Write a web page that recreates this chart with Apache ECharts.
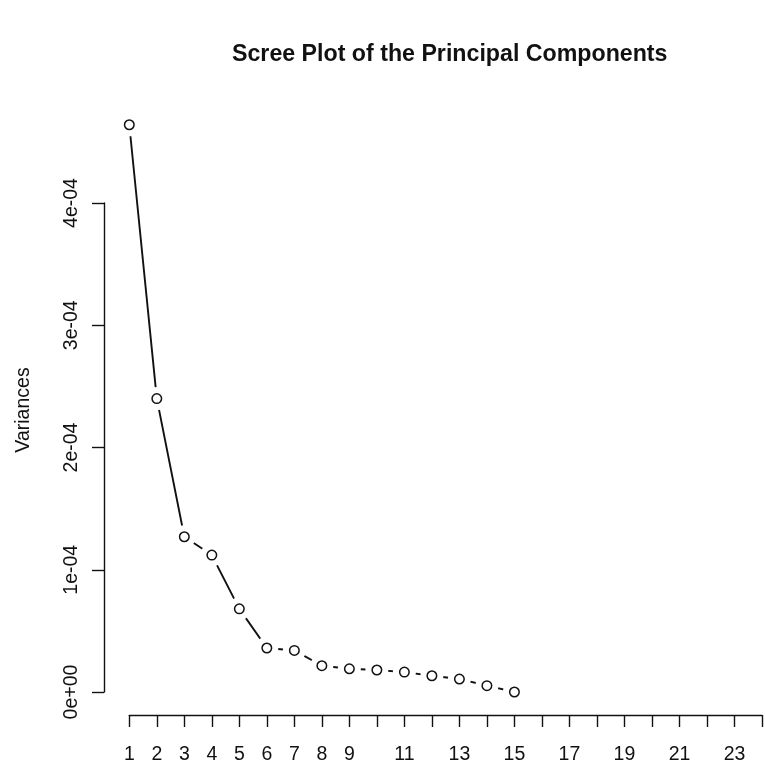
<!DOCTYPE html>
<html>
<head>
<meta charset="utf-8">
<title>Scree Plot of the Principal Components</title>
<script src="https://cdn.jsdelivr.net/npm/echarts@6/dist/echarts.min.js"></script>
<style>
  html, body { margin: 0; padding: 0; background: #fff; }
  #chart { width: 765px; height: 765px; }
</style>
</head>
<body>
<div id="chart"></div>
<script>
// Principal component numbers and their variances
const components = [1, 2, 3, 4, 5, 6, 7, 8, 9, 10, 11, 12, 13, 14, 15];
const variances = [
  4.64e-4, 2.40e-4, 1.27e-4, 1.12e-4, 0.68e-4,
  0.36e-4, 0.34e-4, 0.215e-4, 0.19e-4, 0.18e-4,
  0.163e-4, 0.133e-4, 0.106e-4, 0.052e-4, 0.0
];

// Axis tick labels
const yTickValues = [0, 1e-4, 2e-4, 3e-4, 4e-4];
const yTickLabels = ['0e+00', '1e-04', '2e-04', '3e-04', '4e-04'];
const xTickValues = [1,2,3,4,5,6,7,8,9,10,11,12,13,14,15,16,17,18,19,20,21,22,23,24];
const xTickLabels = ['1','2','3','4','5','6','7','8','9','','11','','13','','15','','17','','19','','21','','23',''];

const FONT = '"Liberation Sans", Arial, Helvetica, sans-serif';
const INK = '#111';

const points = components.map((c, i) => [c, variances[i]]);

const chart = echarts.init(document.getElementById('chart'), null, { renderer: 'canvas' });

chart.setOption({
  animation: false,
  backgroundColor: '#fff',
  title: {
    text: 'Scree Plot of the Principal Components',
    left: 227,
    top: 38,
    textStyle: { fontFamily: FONT, fontSize: 23.2, fontWeight: 'bold', color: INK }
  },
  grid: { left: 129.3, right: -3.7, top: 203, bottom: 71, containLabel: false },
  xAxis: {
    type: 'value',
    min: 1,
    max: 24,
    interval: 1,
    offset: 23,
    axisLine: { show: true, onZero: false, lineStyle: { color: INK, width: 1.4 } },
    axisTick: { show: true, length: 12, lineStyle: { color: INK, width: 1.4 } },
    splitLine: { show: false },
    axisLabel: {
      margin: 30,
      fontFamily: FONT,
      fontSize: 19.5,
      color: INK,
      showMinLabel: true,
      showMaxLabel: true,
      formatter: v => {
        const i = xTickValues.indexOf(Math.round(v));
        return i >= 0 ? xTickLabels[i] : '';
      }
    }
  },
  yAxis: {
    type: 'value',
    min: 0,
    max: 4e-4,
    interval: 1e-4,
    offset: 25.3,
    name: 'Variances',
    nameLocation: 'middle',
    nameGap: 70,
    nameRotate: 90,
    nameTextStyle: {
      fontFamily: FONT, fontSize: 19.5, color: INK,
      padding: [0, 0, 0, 75]
    },
    axisLine: { show: true, onZero: false, lineStyle: { color: INK, width: 1.4 } },
    axisTick: { show: true, length: 12, lineStyle: { color: INK, width: 1.4 } },
    splitLine: { show: false },
    axisLabel: {
      rotate: 90,
      margin: 22,
      fontFamily: FONT,
      fontSize: 19.5,
      color: INK,
      formatter: v => {
        const i = yTickValues.findIndex(t => Math.abs(t - v) < 1e-9);
        return i >= 0 ? yTickLabels[i] : '';
      }
    }
  },
  series: [
    {
      // connecting line
      type: 'line',
      data: points,
      showSymbol: false,
      clip: false,
      z: 2,
      lineStyle: { color: INK, width: 1.9 },
      silent: true
    },
    {
      // white halo leaving a gap between the line and each point
      type: 'scatter',
      data: points,
      symbol: 'circle',
      symbolSize: 23,
      clip: false,
      z: 3,
      itemStyle: { color: '#fff', opacity: 1 },
      silent: true
    },
    {
      // open circle markers
      type: 'scatter',
      data: points,
      symbol: 'circle',
      symbolSize: 9.5,
      clip: false,
      z: 4,
      itemStyle: { color: '#fff', borderColor: INK, borderWidth: 1.5, opacity: 1 },
      silent: true
    }
  ]
});
</script>
</body>
</html>
